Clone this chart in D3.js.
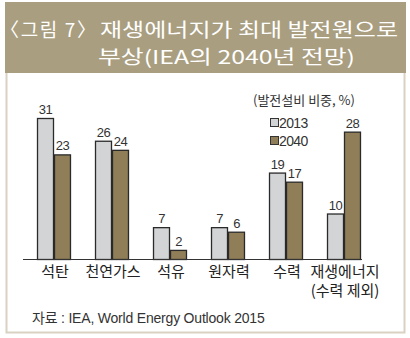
<!DOCTYPE html>
<html>
<head>
<meta charset="utf-8">
<script src="https://cdn.jsdelivr.net/npm/d3@7"></script>
<style>
  body { margin: 0; background: #fff; }
  svg text { font-family: "Liberation Sans", "Noto Sans CJK KR", sans-serif; }
  svg text.kr { font-family: "Noto Sans CJK KR", "Noto Sans", sans-serif; }
</style>
</head>
<body>
<div id="chart"></div>
<script>
// data
var categories = ['석탄', '천연가스', '석유', '원자력', '수력', '재생에너지'];
var catSub = ['', '', '', '', '', '(수력 제외)'];
var years = ['2013', '2040'];
var values2013 = [31, 26, 7, 7, 19, 10];
var values2040 = [23, 24, 2, 6, 17, 28];

var colors = { '2013': '#d3d4d6', '2040': '#8f7e57' };

var W = 410, H = 338;
var baseY = 259;

var svg = d3.select('#chart').append('svg')
  .attr('width', W)
  .attr('height', H);

// frame + title band
svg.append('rect')
  .attr('x', 6.5).attr('y', 60.5)
  .attr('width', 398).attr('height', 272)
  .attr('fill', '#fff')
  .attr('stroke', '#d9d2c3')
  .attr('stroke-width', 2);

svg.append('rect')
  .attr('x', 5).attr('y', 2)
  .attr('width', 401).attr('height', 71)
  .attr('fill', '#a99e80');

var t1 = svg.append('text')
  .attr('class', 'kr')
  .attr('y', 37)
  .attr('fill', '#fff')
  .style('font-size', '19px');
t1.append('tspan')
  .attr('x', 0)
  .attr('textLength', 96)
  .attr('lengthAdjust', 'spacing')
  .text('〈그림 7〉');
t1.append('tspan')
  .attr('x', 100)
  .attr('textLength', 298)
  .attr('lengthAdjust', 'spacingAndGlyphs')
  .text('재생에너지가 최대 발전원으로');

svg.append('text')
  .attr('class', 'kr')
  .attr('x', 98).attr('y', 64)
  .attr('fill', '#fff')
  .attr('textLength', 257)
  .attr('lengthAdjust', 'spacingAndGlyphs')
  .style('font-size', '19px')
  .text('부상(IEA의 2040년 전망)');

// scales
var x = d3.scaleBand()
  .domain(categories)
  .range([25, 373])
  .paddingInner(0.414)
  .paddingOuter(0.207);

var x1 = d3.scaleBand()
  .domain(years)
  .range([0, x.bandwidth()]);

var y = d3.scaleLinear()
  .domain([0, 31])
  .range([baseY, 118]);

var rows = categories.map(function(c, i) {
  return { cat: c, sub: catSub[i], vals: [
    { year: '2013', v: values2013[i] },
    { year: '2040', v: values2040[i] }
  ]};
});

var g = svg.selectAll('.grp')
  .data(rows)
  .enter().append('g')
  .attr('class', 'grp')
  .attr('transform', d => `translate(${x(d.cat)},0)`);

g.selectAll('rect')
  .data(d => d.vals)
  .enter().append('rect')
  .attr('x', d => x1(d.year) + 0.5)
  .attr('y', d => y(d.v) + 0.5)
  .attr('width', x1.bandwidth() - 1)
  .attr('height', d => baseY - y(d.v))
  .attr('fill', d => colors[d.year])
  .attr('stroke', '#2a2a2a')
  .attr('stroke-width', 1.3);

g.selectAll('.val')
  .data(d => d.vals)
  .enter().append('text')
  .attr('class', 'val')
  .attr('x', d => x1(d.year) + x1.bandwidth() / 2)
  .attr('y', d => y(d.v) - 4)
  .attr('text-anchor', 'middle')
  .attr('fill', '#333')
  .style('font-size', '13px')
  .style('letter-spacing', '-0.6px')
  .text(d => d.v);

// baseline
svg.append('line')
  .attr('x1', 23).attr('x2', x.range()[1] - 11)
  .attr('y1', baseY + 0.5).attr('y2', baseY + 0.5)
  .attr('stroke', '#333')
  .attr('stroke-width', 1);

// category labels
g.append('text')
  .attr('class', 'kr')
  .attr('x', x.bandwidth() / 2 + 1)
  .attr('y', 277)
  .attr('text-anchor', 'middle')
  .attr('fill', '#222')
  .style('font-size', '15px')
  .text(d => d.cat);

g.append('text')
  .attr('class', 'kr')
  .attr('x', x.bandwidth() / 2 + 1)
  .attr('y', 296)
  .attr('text-anchor', 'middle')
  .attr('fill', '#222')
  .style('font-size', '15px')
  .text(d => d.sub);

// unit + legend
svg.append('text')
  .attr('class', 'kr')
  .attr('x', 253).attr('y', 105)
  .attr('fill', '#333')
  .style('font-size', '13px')
  .text('(발전설비 비중, %)');

var legend = svg.selectAll('.leg')
  .data(years)
  .enter().append('g')
  .attr('class', 'leg')
  .attr('transform', (d, i) => `translate(270, ${118 + i * 18})`);

legend.append('rect')
  .attr('x', 0.5).attr('y', 0.5)
  .attr('width', 8).attr('height', 8)
  .attr('fill', d => colors[d])
  .attr('stroke', '#333')
  .attr('stroke-width', 1);

legend.append('text')
  .attr('x', 9).attr('y', 9.5)
  .attr('fill', '#333')
  .style('font-size', '14px')
  .style('letter-spacing', '-0.6px')
  .text(d => d);

// source
svg.append('text')
  .attr('x', 32).attr('y', 323)
  .attr('fill', '#333')
  .style('font-size', '14px')
  .style('letter-spacing', '-0.2px')
  .text('자료 : IEA, World Energy Outlook 2015');
</script>
</body>
</html>
